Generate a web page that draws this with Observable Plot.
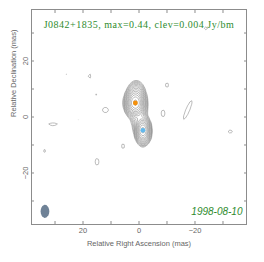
<!DOCTYPE html>
<html><head><meta charset="utf-8">
<script src="https://cdn.jsdelivr.net/npm/d3@7"></script>
<script src="https://cdn.jsdelivr.net/npm/@observablehq/plot@0.6"></script>
<style>body{margin:0;background:#fff}</style>
</head><body><div id="chart"></div>
<script>
// ---- values ----
const sourceName = "J0842+1835";
const peakFlux = 0.44;          // Jy/beam
const clev = 0.004;             // lowest contour, Jy/beam
const obsDate = "1998-08-10";
const contourLevels = [0.004, 0.00566, 0.008, 0.0113, 0.016, 0.0226, 0.032, 0.0453, 0.064, 0.0905, 0.128, 0.181, 0.256, 0.362];
const axisTicks = [30, 20, 10, 0, -10, -20, -30];
const tickLabels = [20, 0, -20];
const xLabel = "Relative Right Ascension (mas)";
const yLabel = "Relative Declination (mas)";

// main source: Gaussian components (mas, Jy/beam, deg)
const compX = [1.3, -1.4, 1.0, 0.0, -2.0];
const compY = [5.0, -4.75, 8.5, 0.0, -7.5];
const compPeak = [0.40, 0.30, 0.05, 0.02, 0.01];
const compSigMaj = [2.0, 1.9, 2.0, 2.5, 1.8];
const compSigMin = [1.45, 1.1, 1.4, 1.4, 1.1];
const compPA = [0, 0, 0, 165, 160];

// marked components (orange / blue dots)
const markX = [1.3, -1.4];
const markY = [5.0, -4.75];
const markColor = ["#f5900a", "#63b9ec"];

// faint islands at the lowest contour (centre, radii in mas, PA)
const islandX = [25.7, 17.7, 15.4, 12.0, 21.8, 30.7, -10.0, -8.6, -17.4, -23.9, -32.6, 21.0, 33.7, 5.7, 15.0, 30.5];
const islandY = [15.1, 14.6, 7.9, 2.5, -0.8, -2.6, 11.4, 1.3, 2.5, 31.7, -5.2, -12.1, -12.1, -10.4, -16.0, -19.2];
const islandRx = [0.35, 0.45, 0.3, 1.1, 0.3, 1.6, 0.55, 0.7, 0.7, 0.6, 0.8, 0.3, 0.55, 0.5, 0.7, 0.3];
const islandRy = [0.35, 0.9, 0.4, 0.95, 0.3, 0.55, 0.9, 1.25, 3.7, 0.6, 0.6, 0.3, 0.5, 1.0, 1.25, 0.3];
const islandPA = [0, 0, 0, 0, 0, 0, 0, 0, -23, 0, 0, 0, 0, 0, 0, 0];
const islandPeak = 0.0052;

// restoring beam (centre, FWHM in mas)
const beamX = [33.6];
const beamY = [-33.7];
const beamMaj = [4.7];
const beamMin = [3.1];
const beamPA = [0];

const extent = 38.4;

// ---- helpers ----
function gauss(dx, dy, sMaj, sMin, paDeg) {
  const t = paDeg * Math.PI / 180;
  const u = dx * Math.sin(t) + dy * Math.cos(t);
  const v = dx * Math.cos(t) - dy * Math.sin(t);
  return Math.exp(-0.5 * (u * u / (sMaj * sMaj) + v * v / (sMin * sMin)));
}
const islandK = Math.sqrt(2 * Math.log(islandPeak / clev)); // contour radius per sigma
function brightness(x, y) {
  let s = 0;
  for (let i = 0; i < compX.length; i++)
    s += compPeak[i] * gauss(x - compX[i], y - compY[i], compSigMaj[i], compSigMin[i], compPA[i]);
  for (let i = 0; i < islandX.length; i++)
    s += islandPeak * gauss(x - islandX[i], y - islandY[i], islandRy[i] / islandK, islandRx[i] / islandK, islandPA[i]);
  return s;
}
const fwhm = 2 * Math.sqrt(2 * Math.log(2));
function beam(x, y) {
  return gauss(x - beamX[0], y - beamY[0], beamMaj[0] / fwhm, beamMin[0] / fwhm, beamPA[0]);
}

const marks = markX.map((x, i) => ({x, y: markY[i], c: markColor[i]}));
const green = "#2e8b2e";
const grey = "#666";
const sans = "Liberation Sans, Arial, sans-serif";

const chart = Plot.plot({
  width: 264,
  height: 262,
  marginLeft: 31,
  marginRight: 18,
  marginTop: 9,
  marginBottom: 38,
  style: {fontFamily: sans, background: "#fff"},
  x: {domain: [extent, -extent]},
  y: {domain: [-extent, extent]},
  marks: [
    Plot.contour({value: brightness, x1: -extent, x2: extent, y1: -extent, y2: extent,
      thresholds: contourLevels, stroke: "#8f8f8f", strokeWidth: 0.6, fill: "none"}),
    Plot.contour({value: beam, x1: 20, x2: extent, y1: -extent, y2: -20,
      thresholds: [0.5], fill: "#6f8297", stroke: "none"}),
    Plot.dot(marks, {x: "x", y: "y", r: 2.4, fill: "c", stroke: "none"}),
    Plot.frame({stroke: "#8c8c8c"}),
    Plot.axisX(axisTicks, {anchor: "bottom", tickSize: -3, tickFormat: () => "", label: null, stroke: "#8c8c8c"}),
    Plot.axisX(axisTicks, {anchor: "top", tickSize: -3, tickFormat: () => "", label: null, stroke: "#8c8c8c"}),
    Plot.axisY(axisTicks, {anchor: "left", tickSize: -3, tickFormat: () => "", label: null, stroke: "#8c8c8c"}),
    Plot.axisY(axisTicks, {anchor: "right", tickSize: -3, tickFormat: () => "", label: null, stroke: "#8c8c8c"}),
    Plot.axisX(tickLabels, {anchor: "bottom", tickSize: 0, tickPadding: 3, label: null, fill: grey, fontSize: 7.5}),
    Plot.axisY(tickLabels, {anchor: "left", tickSize: 0, tickPadding: 4, tickRotate: -90, label: null, fill: grey, fontSize: 7.5}),
    Plot.text([xLabel], {frameAnchor: "bottom", dy: 21, fill: grey, fontSize: 7.5}),
    Plot.text([yLabel], {frameAnchor: "left", dx: -18, rotate: -90, fill: grey, fontSize: 7.5}),
    Plot.text([`${sourceName}, max=${peakFlux}, clev=${clev} Jy/bm`], {frameAnchor: "top", dy: 11,
      fill: green, fontSize: 10, fontFamily: "Liberation Serif, serif"}),
    Plot.text([obsDate], {frameAnchor: "bottom-right", dx: -4, dy: -10, textAnchor: "end",
      fill: green, fontSize: 10, fontStyle: "italic", fontFamily: sans})
  ]
});
chart.querySelectorAll("text").forEach(t => {
  if (t.textContent.startsWith(sourceName)) t.setAttribute("letter-spacing", "0.5");
});
document.getElementById("chart").appendChild(chart);
</script>
</body></html>
